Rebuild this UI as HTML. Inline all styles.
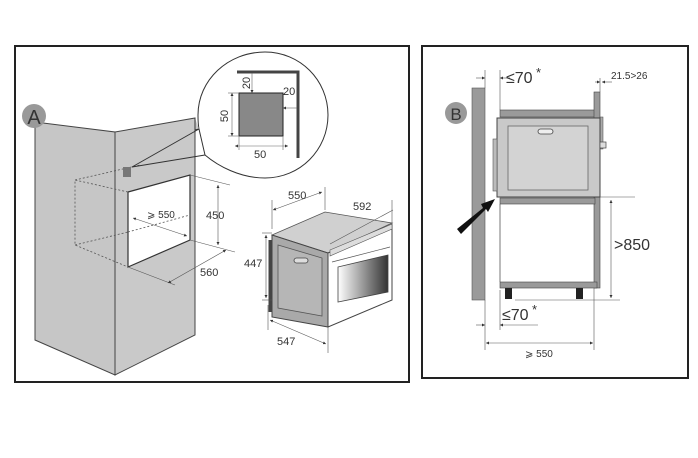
<!DOCTYPE html>
<html><head><meta charset="utf-8"><style>
html,body{margin:0;padding:0;background:#fff;width:698px;height:458px;overflow:hidden}
svg{display:block}
text{font-family:"Liberation Sans",sans-serif;fill:#333}
</style></head><body>
<svg width="698" height="458" viewBox="0 0 698 458" xmlns="http://www.w3.org/2000/svg">
<defs>
<linearGradient id="g" x1="0" x2="1"><stop offset="0" stop-color="#fff"/><stop offset="1" stop-color="#333"/></linearGradient>
<marker id="a" viewBox="0 0 6 6" refX="6" refY="3" markerWidth="5" markerHeight="5" orient="auto-start-reverse"><path d="M0,0L6,3L0,6z" fill="#333"/></marker>
</defs>
<!-- Panel A -->
<rect x="15" y="46" width="394" height="336" fill="#fff" stroke="#222" stroke-width="2"/>
<!-- cabinet -->
<polygon points="35,122 115,132 115,375 35,340" fill="#c6c6c6" stroke="#444" stroke-width="1"/>
<polygon points="115,132 195,118 195,335 115,375" fill="#c9c9c9" stroke="#444" stroke-width="1"/>
<polygon points="128,192 190,175 190,240 128,267" fill="#fff" stroke="#333" stroke-width="1.2"/>
<polyline points="128,192 75,180 75,245 128,267" fill="none" stroke="#555" stroke-dasharray="2,2" stroke-width="0.8"/>
<line x1="75" y1="180" x2="140" y2="165" stroke="#555" stroke-dasharray="2,2" stroke-width="0.8"/>
<line x1="75" y1="245" x2="128" y2="232" stroke="#555" stroke-dasharray="2,2" stroke-width="0.8"/>
<line x1="128" y1="232" x2="190" y2="215" stroke="#555" stroke-dasharray="2,2" stroke-width="0.8"/>
<rect x="123" y="167" width="8" height="10" fill="#777"/>
<!-- callout -->
<path d="M199,129 C198,124 198,120 198,115 C198,80 228,52 265,52 C300,52 328,80 328,115 C328,150 300,178 265,178 C240,178 218,166 205,155 Z" fill="#fff" stroke="#333" stroke-width="1"/>
<path d="M195,118 L195,130 L199,129" fill="#c9c9c9" stroke="#333" stroke-width="1"/>
<line x1="132" y1="167" x2="199" y2="129" stroke="#333" stroke-width="1"/>
<line x1="132" y1="167" x2="205" y2="155" stroke="#333" stroke-width="1"/>
<path d="M237,72 L298,72 L298,158" fill="none" stroke="#444" stroke-width="3"/>
<rect x="239" y="93" width="44" height="43" fill="#888" stroke="#222"/>
<line x1="228" y1="93" x2="239" y2="93" stroke="#666" stroke-width="0.6"/><line x1="228" y1="136" x2="239" y2="136" stroke="#666" stroke-width="0.6"/>
<line x1="232" y1="93" x2="232" y2="136" stroke="#666" stroke-width="0.6" marker-start="url(#a)" marker-end="url(#a)"/>
<line x1="235" y1="146" x2="288" y2="146" stroke="#666" stroke-width="0.6" marker-start="url(#a)" marker-end="url(#a)"/>
<line x1="239" y1="136" x2="239" y2="150" stroke="#666" stroke-width="0.6"/><line x1="283" y1="136" x2="283" y2="150" stroke="#666" stroke-width="0.6"/>
<line x1="252" y1="73" x2="252" y2="93" stroke="#666" stroke-width="0.6" marker-end="url(#a)"/>
<line x1="283" y1="108" x2="297" y2="108" stroke="#666" stroke-width="0.6" marker-start="url(#a)"/>
<text x="228" y="116" font-size="11" transform="rotate(-90 228 116)" text-anchor="middle">50</text>
<text x="250" y="83" font-size="11" transform="rotate(-90 250 83)" text-anchor="middle">20</text>
<text x="283" y="95" font-size="11">20</text>
<text x="254" y="158" font-size="11">50</text>
<!-- dims A -->
<line x1="190" y1="175" x2="230" y2="185" stroke="#555" stroke-width="0.6"/>
<line x1="190" y1="240" x2="235" y2="252" stroke="#555" stroke-width="0.6"/>
<line x1="218" y1="185" x2="218" y2="245" stroke="#555" stroke-width="0.6" marker-start="url(#a)" marker-end="url(#a)"/>
<text x="206" y="219" font-size="11">450</text>
<line x1="133" y1="218" x2="187" y2="236" stroke="#555" stroke-width="0.6" marker-start="url(#a)" marker-end="url(#a)"/>
<text x="147" y="218" font-size="10">⩾ 550</text>
<line x1="128" y1="267" x2="175" y2="285" stroke="#555" stroke-width="0.6"/>
<line x1="168" y1="283" x2="226" y2="250" stroke="#555" stroke-width="0.6" marker-start="url(#a)" marker-end="url(#a)"/>
<text x="200" y="276" font-size="11">560</text>
<!-- oven -->
<polygon points="272,235 325,212 392,223 328,253" fill="#d0d0d0" stroke="#555" stroke-width="0.8"/>
<polygon points="272,235 328,253 328,327 272,317" fill="#a9a9a9" stroke="#444" stroke-width="1"/>
<polygon points="278,245 322,258 322,316 278,308" fill="#b6b6b6" stroke="#555" stroke-width="0.8"/>
<rect x="294" y="258" width="14" height="5" rx="2.5" fill="#ddd" stroke="#444" stroke-width="0.8"/>
<polygon points="328,253 392,225 392,300 328,327" fill="#fff" stroke="#444" stroke-width="1"/>
<polygon points="330,250 392,224 392,229 330,256" fill="#ddd" stroke="#555" stroke-width="0.6"/>
<polygon points="338,267 388,255 388,292 338,302" fill="url(#g)" stroke="#444" stroke-width="0.8"/>
<line x1="332" y1="262" x2="390" y2="247" stroke="#555" stroke-width="0.7"/>
<line x1="270" y1="240" x2="270" y2="312" stroke="#444" stroke-width="3"/>
<line x1="272" y1="229" x2="272" y2="200" stroke="#555" stroke-width="0.6"/>
<line x1="325" y1="210" x2="325" y2="187" stroke="#555" stroke-width="0.6"/>
<line x1="273" y1="210" x2="322" y2="192" stroke="#555" stroke-width="0.6" marker-start="url(#a)" marker-end="url(#a)"/>
<text x="288" y="199" font-size="11">550</text>
<line x1="330" y1="244" x2="393" y2="210" stroke="#555" stroke-width="0.6"/>
<line x1="392" y1="200" x2="392" y2="225" stroke="#555" stroke-width="0.6"/>
<text x="353" y="210" font-size="11">592</text>
<line x1="262" y1="233" x2="272" y2="233" stroke="#555" stroke-width="0.6"/>
<line x1="262" y1="300" x2="272" y2="300" stroke="#555" stroke-width="0.6"/>
<line x1="266" y1="235" x2="266" y2="298" stroke="#555" stroke-width="0.6" marker-start="url(#a)" marker-end="url(#a)"/>
<text x="244" y="267" font-size="11">447</text>
<line x1="268" y1="305" x2="268" y2="330" stroke="#555" stroke-width="0.6"/>
<line x1="328" y1="327" x2="328" y2="353" stroke="#555" stroke-width="0.6"/>
<line x1="270" y1="320" x2="326" y2="344" stroke="#555" stroke-width="0.6" marker-start="url(#a)" marker-end="url(#a)"/>
<text x="277" y="345" font-size="11">547</text>
<circle cx="34" cy="116" r="12" fill="#999"/>
<text x="34" y="124" font-size="20" text-anchor="middle" fill="#222">A</text>
<!-- Panel B -->
<rect x="422" y="46" width="266" height="332" fill="#fff" stroke="#222" stroke-width="2"/>
<rect x="472" y="88" width="13" height="212" fill="#9a9a9a" stroke="#555" stroke-width="0.6"/>
<circle cx="456" cy="113" r="11" fill="#999"/>
<text x="456" y="120" font-size="17" text-anchor="middle" fill="#333">B</text>
<rect x="500" y="110" width="97" height="7" fill="#9a9a9a" stroke="#444" stroke-width="0.6"/>
<rect x="594" y="92" width="6" height="196" fill="#9a9a9a" stroke="#444" stroke-width="0.6"/>
<rect x="600" y="117" width="3" height="32" fill="#aaa" stroke="#444" stroke-width="0.5"/>
<rect x="500" y="198" width="95" height="6" fill="#9a9a9a" stroke="#444" stroke-width="0.6"/>
<rect x="500" y="282" width="97" height="6" fill="#9a9a9a" stroke="#444" stroke-width="0.6"/>
<rect x="505" y="288" width="7" height="11" fill="#222"/>
<rect x="576" y="288" width="7" height="11" fill="#222"/>
<line x1="500" y1="204" x2="500" y2="282" stroke="#555" stroke-width="0.8"/>
<rect x="497" y="118" width="103" height="79" fill="#c9c9c9" stroke="#444" stroke-width="1"/>
<rect x="508" y="126" width="80" height="64" fill="#d3d3d3" stroke="#666" stroke-width="0.8"/>
<rect x="538" y="129" width="15" height="5" rx="2.5" fill="#eee" stroke="#444" stroke-width="0.8"/>
<rect x="493" y="139" width="4" height="52" fill="#bbb" stroke="#555" stroke-width="0.6"/>
<rect x="600" y="142" width="6" height="6" fill="#ddd" stroke="#444" stroke-width="0.7"/>
<polygon points="457,229 483,208 481,204 495,199 488,212 486,209 461,234" fill="#111"/>
<line x1="485" y1="70" x2="485" y2="88" stroke="#555" stroke-width="0.6"/>
<line x1="500" y1="70" x2="500" y2="110" stroke="#555" stroke-width="0.6"/>
<line x1="476" y1="78" x2="485" y2="78" stroke="#555" stroke-width="0.6" marker-end="url(#a)"/>
<line x1="510" y1="78" x2="500" y2="78" stroke="#555" stroke-width="0.6" marker-end="url(#a)"/>
<text x="506" y="83" font-size="16">≤70</text><text x="536" y="77" font-size="13">*</text>
<line x1="600" y1="78" x2="600" y2="92" stroke="#555" stroke-width="0.6"/>
<line x1="595" y1="82" x2="600" y2="82" stroke="#555" stroke-width="0.6" marker-end="url(#a)"/>
<line x1="612" y1="82" x2="602" y2="82" stroke="#555" stroke-width="0.6" marker-end="url(#a)"/>
<text x="611" y="79" font-size="10">21.5&gt;26</text>
<line x1="600" y1="197" x2="635" y2="197" stroke="#555" stroke-width="0.6"/>
<line x1="515" y1="300" x2="620" y2="300" stroke="#555" stroke-width="0.6"/>
<line x1="611" y1="200" x2="611" y2="298" stroke="#555" stroke-width="0.6" marker-start="url(#a)" marker-end="url(#a)"/>
<text x="614" y="250" font-size="16">&gt;850</text>
<line x1="500" y1="290" x2="500" y2="330" stroke="#555" stroke-width="0.6"/>
<line x1="485" y1="300" x2="485" y2="350" stroke="#555" stroke-width="0.6"/>
<line x1="476" y1="325" x2="485" y2="325" stroke="#555" stroke-width="0.6" marker-end="url(#a)"/>
<line x1="538" y1="325" x2="500" y2="325" stroke="#555" stroke-width="0.6" marker-end="url(#a)"/>
<text x="502" y="320" font-size="16">≤70</text><text x="532" y="314" font-size="13">*</text>
<line x1="594" y1="288" x2="594" y2="350" stroke="#555" stroke-width="0.6"/>
<line x1="486" y1="343" x2="593" y2="343" stroke="#555" stroke-width="0.6" marker-start="url(#a)" marker-end="url(#a)"/>
<text x="525" y="357" font-size="10">⩾ 550</text>
</svg>
</body></html>
